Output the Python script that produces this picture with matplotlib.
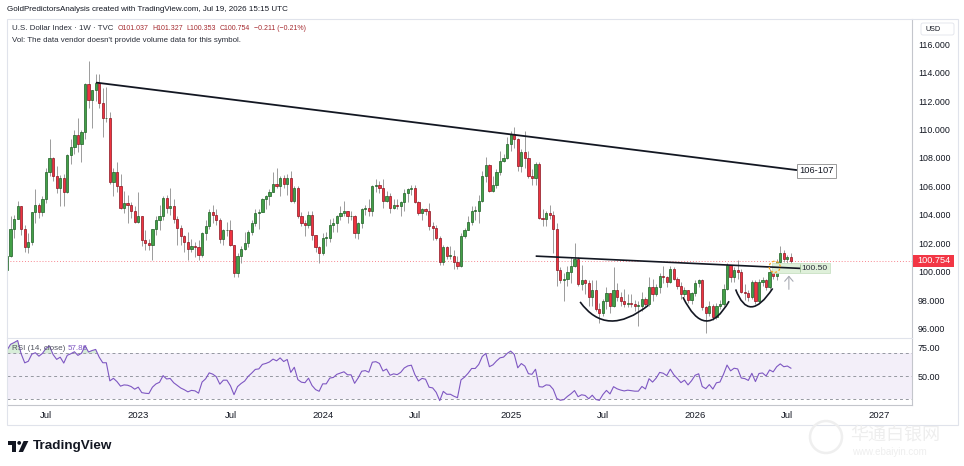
import numpy as np
import pandas as pd
import matplotlib
matplotlib.use("Agg")
import matplotlib.pyplot as plt
import matplotlib.dates as mdates
import matplotlib.transforms as mtransforms
from matplotlib.patches import Rectangle, Ellipse, PathPatch, FancyBboxPatch, Polygon, Circle
from matplotlib.path import Path

plt.rcParams['font.family'] = ['Liberation Sans', 'DejaVu Sans']

# U.S. Dollar Index (TVC), weekly bars, each week starts on a Monday
first_week = "2021-10-04"

close_2021 = [94.1, 94.0, 93.6, 94.1, 94.3, 95.1, 96.0, 96.4, 96.1, 96.1, 96.6, 96.0, 95.7]
high_2021 = [94.5, 94.6, 94.1, 94.2, 94.6, 95.3, 96.3, 96.9, 96.5, 96.4, 96.9, 96.8, 96.3]
low_2021 = [93.7, 93.8, 93.5, 93.3, 93.3, 93.9, 95.1, 95.8, 95.8, 95.9, 95.9, 96.0, 95.6]

close_2022 = [95.7, 95.2, 95.6, 97.3, 95.5, 96.1, 96.0, 96.6, 98.6, 99.1, 98.2, 98.8, 98.6,
              99.8, 100.1, 101.1, 103.0, 103.7, 104.6, 103.0, 101.7, 102.1, 104.2, 104.7, 104.2, 105.1,
              107.0, 108.0, 106.7, 105.9, 106.6, 105.6, 108.2, 108.8, 109.6, 109.0, 109.8, 113.2, 112.1,
              112.8, 113.3, 111.9, 110.8, 110.8, 106.3, 107.0, 106.0, 104.5, 104.8, 104.7, 104.3, 103.5]
high_2022 = [96.5, 96.0, 95.9, 97.4, 97.4, 96.2, 96.3, 97.7, 98.9, 99.4, 99.1, 99.2, 99.1,
             100.0, 100.8, 101.3, 103.9, 104.0, 105.0, 104.6, 103.3, 102.7, 104.2, 105.8, 104.8, 105.3,
             107.3, 109.3, 108.1, 107.4, 106.8, 106.9, 108.3, 109.3, 110.0, 110.8, 110.0, 113.3, 114.8,
             112.8, 113.9, 113.9, 112.9, 113.0, 111.2, 107.3, 107.7, 106.9, 105.7, 105.4, 104.9, 104.6]
low_2022 = [95.5, 94.6, 95.0, 95.5, 95.1, 95.2, 95.6, 95.9, 96.3, 97.7, 97.7, 98.0, 97.7,
            98.6, 99.6, 99.8, 101.0, 102.4, 103.7, 102.6, 101.4, 101.3, 101.9, 103.4, 103.8, 103.9,
            104.8, 106.7, 106.4, 105.5, 104.6, 104.6, 105.5, 107.6, 108.3, 108.4, 107.7, 109.3, 111.5,
            110.1, 112.0, 111.5, 109.5, 110.5, 106.2, 105.3, 105.6, 104.4, 104.1, 103.4, 103.8, 103.4]

close_2023 = [103.9, 102.2, 102.0, 101.9, 103.0, 103.6, 103.9, 105.2, 104.5, 104.6, 103.7, 103.1, 102.5,
              102.1, 101.6, 101.8, 101.7, 101.2, 102.7, 103.2, 104.2, 104.0, 103.6, 102.3, 102.9, 102.9,
              101.9, 99.9, 101.1, 101.6, 102.0, 102.8, 103.4, 104.1, 104.2, 105.1, 105.3, 105.6, 106.2,
              106.0, 106.6, 106.2, 106.6, 105.0, 105.9, 103.9, 103.4, 103.3, 104.0, 102.6, 101.7, 101.3]
high_2023 = [105.6, 103.9, 102.9, 102.3, 103.0, 103.9, 104.7, 105.3, 105.4, 105.9, 105.1, 103.9, 103.3,
             102.6, 102.8, 102.3, 102.1, 102.2, 102.8, 103.6, 104.4, 104.7, 104.4, 103.8, 103.0, 103.5,
             103.6, 101.9, 101.3, 101.8, 102.8, 102.9, 103.6, 104.4, 104.4, 105.2, 105.4, 105.8, 107.0,
             107.3, 106.7, 106.8, 106.9, 107.1, 106.0, 106.0, 104.2, 103.6, 104.3, 104.3, 102.6, 101.8]
low_2023 = [103.4, 101.8, 101.5, 101.5, 100.8, 102.6, 102.9, 103.6, 104.1, 104.0, 103.4, 101.9, 101.9,
            101.4, 100.8, 101.4, 101.0, 100.8, 101.0, 102.2, 103.0, 103.4, 103.3, 102.0, 101.9, 102.5,
            101.8, 99.6, 99.6, 100.6, 101.5, 101.7, 102.6, 103.2, 103.0, 104.2, 104.4, 104.7, 105.6,
            105.9, 105.3, 105.9, 105.4, 104.9, 104.8, 103.8, 103.2, 102.5, 103.1, 102.2, 101.4, 100.6]

close_2024 = [102.4, 102.4, 103.3, 103.4, 103.9, 104.1, 104.3, 103.9, 103.9, 102.7, 103.4, 104.4, 104.5,
              104.3, 106.0, 106.1, 105.9, 105.0, 105.3, 104.5, 104.7, 104.6, 104.9, 105.5, 105.8, 105.9,
              104.9, 104.1, 104.4, 104.3, 103.2, 103.1, 102.4, 100.7, 101.7, 101.1, 101.1, 100.7, 100.4,
              102.5, 102.9, 103.5, 104.3, 104.3, 105.0, 106.7, 107.5, 105.7, 106.1, 107.0, 107.8, 108.0, 109.0]
high_2024 = [102.7, 102.8, 103.7, 103.8, 104.0, 104.6, 105.0, 104.3, 104.3, 104.0, 103.5, 104.5, 104.7,
             105.1, 106.1, 106.5, 106.4, 106.5, 105.7, 105.5, 105.1, 105.1, 105.0, 105.8, 105.9, 106.1,
             106.1, 105.0, 104.5, 104.5, 104.8, 103.5, 103.3, 102.5, 101.9, 101.8, 101.8, 101.5, 101.1,
             102.7, 103.1, 103.9, 104.6, 104.6, 105.4, 107.1, 108.1, 107.6, 106.7, 107.2, 108.5, 108.3, 109.5]
low_2024 = [101.2, 101.8, 102.1, 102.8, 102.8, 103.6, 103.9, 103.4, 103.6, 102.4, 102.3, 103.1, 104.0,
            103.9, 103.9, 105.6, 105.5, 104.5, 104.9, 104.1, 104.4, 104.4, 103.9, 104.3, 104.9, 105.4,
            104.8, 104.0, 103.6, 104.0, 102.9, 102.2, 102.2, 100.5, 100.5, 100.9, 100.9, 100.2, 100.2,
            100.3, 102.4, 102.9, 103.3, 103.6, 103.4, 104.9, 106.3, 105.6, 105.6, 105.9, 106.8, 107.7, 107.9]

close_2025 = [109.7, 109.3, 107.4, 108.4, 108.0, 106.7, 106.6, 107.6, 103.8, 103.7, 104.1, 104.0, 103.0,
              100.1, 99.4, 99.5, 100.0, 100.4, 100.9, 99.1, 99.4, 99.2, 98.2, 98.7, 97.4, 97.1,
              97.9, 98.5, 97.6, 98.7, 98.2, 97.9, 97.7, 97.8, 97.7, 97.6, 97.6, 98.1, 97.7,
              98.9, 98.4, 98.9, 99.7, 99.6, 99.3, 100.2, 99.5, 99.0, 98.4, 98.7, 98.0, 98.5]
high_2025 = [109.9, 110.2, 109.4, 108.6, 109.9, 108.5, 107.2, 107.7, 107.7, 104.4, 104.3, 104.7, 104.3,
             103.4, 100.3, 99.9, 100.4, 101.0, 102.0, 101.0, 100.5, 99.5, 99.4, 99.4, 99.4, 97.8,
             98.1, 98.9, 98.5, 100.3, 99.2, 98.6, 98.8, 98.4, 98.4, 98.0, 97.9, 98.6, 98.2,
             99.6, 99.5, 99.1, 99.9, 100.4, 99.7, 100.4, 100.3, 99.6, 99.3, 98.9, 98.7, 98.6]
low_2025 = [108.5, 108.7, 107.1, 107.0, 107.3, 106.6, 106.1, 106.1, 103.7, 103.2, 103.2, 103.7, 101.3,
            99.0, 99.2, 97.9, 99.0, 99.2, 100.3, 99.0, 98.7, 98.4, 97.6, 97.6, 97.2, 96.4,
            96.9, 97.4, 97.1, 97.5, 97.9, 97.6, 97.5, 97.5, 97.5, 97.2, 96.2, 97.2, 97.6,
            97.6, 97.9, 98.3, 98.5, 99.2, 98.9, 99.2, 99.4, 98.8, 98.1, 98.2, 97.8, 97.7]

close_2026 = [99.2, 99.4, 97.5, 97.1, 97.6, 96.8, 97.6, 97.7, 98.8, 100.45, 99.6, 100.1, 100.0,
              98.6, 98.5, 98.2, 99.3, 97.9, 99.3, 99.4, 98.9, 100.0, 99.7, 100.7, 101.3, 100.9,
              101.037, 100.754]
high_2026 = [99.4, 99.5, 99.5, 97.6, 97.9, 97.7, 97.8, 98.0, 99.1, 100.6, 100.5, 100.3, 100.8,
             100.2, 99.1, 98.7, 99.4, 99.4, 99.5, 99.6, 99.5, 100.2, 100.3, 100.9, 101.8, 101.5,
             101.2, 101.327]
low_2026 = [98.3, 98.9, 97.3, 95.7, 96.9, 96.6, 96.7, 97.4, 97.6, 98.7, 99.3, 99.3, 99.5,
            98.5, 98.0, 97.9, 98.1, 97.7, 97.8, 99.0, 98.7, 98.8, 99.5, 99.4, 100.6, 100.7,
            100.6, 100.353]

closes = close_2021 + close_2022 + close_2023 + close_2024 + close_2025 + close_2026
highs = high_2021 + high_2022 + high_2023 + high_2024 + high_2025 + high_2026
lows = low_2021 + low_2022 + low_2023 + low_2024 + low_2025 + low_2026
opens = [closes[0]] + closes[:-1]

# drawings on the chart (dates, prices)
trend_dates = ["2022-10-12", "2026-07-24"]
trend_prices = [113.3, 107.15]
neck_dates = ["2025-02-26", "2026-07-31"]
neck_prices = [101.09, 100.23]
cup_dates = [("2025-05-23", "2025-07-14", "2025-10-05"),
             ("2025-12-12", "2026-01-25", "2026-03-13"),
             ("2026-03-26", "2026-04-21", "2026-06-07")]
cup_prices = [(97.87, 95.3, 97.64),
              (98.2, 95.0, 97.92),
              (98.75, 96.26, 98.82)]
last_price = 100.754
rsi_last = "57.86"

# ---------------------------------------------------------------
W, H = 964, 466
fig = plt.figure(figsize=(W / 100, H / 100), dpi=100)
fig.patch.set_facecolor("white")


def fx(x):
    return x / W


def fy(y):
    return 1 - y / H


ax = fig.add_axes([fx(7), fy(338), fx(912) - fx(7), fy(19) - fy(338)])
ax_rsi = fig.add_axes([fx(7), fy(405), fx(912) - fx(7), fy(338) - fy(405)], sharex=ax)

weeks = pd.date_range(first_week, periods=len(closes), freq="7D")
t = mdates.date2num(weeks)
o = np.array(opens)
c = np.array(closes)
h = np.array(highs)
l = np.array(lows)
up = c >= o

up_fill, up_edge = "#43a047", "#1d5e24"
dn_fill, dn_edge = "#ef3340", "#8a1420"
wick = "#8c8c8c"

body_lo = np.minimum(o, c)
body_h = np.maximum(np.abs(c - o), 0.04)
ax.vlines(t, l, h, color=wick, lw=0.6, zorder=2)
ax.bar(t[up], body_h[up], bottom=body_lo[up], width=4.4, color=up_fill,
       edgecolor=up_edge, linewidth=0.5, zorder=3)
ax.bar(t[~up], body_h[~up], bottom=body_lo[~up], width=4.4, color=dn_fill,
       edgecolor=dn_edge, linewidth=0.5, zorder=3)

ax.axhline(last_price, color="#F23645", lw=0.7, ls=(0, (1, 2)), alpha=0.6, zorder=1)

# trend line with target label
td = mdates.date2num(pd.to_datetime(trend_dates))
ax.plot(td, trend_prices, color="#131722", lw=1.3, zorder=5, solid_capstyle="round")
ax.annotate("106-107", (td[1], trend_prices[1]), xytext=(2.2, -0.5), textcoords="offset points",
            ha="left", va="center", fontsize=6.7, color="#131722", zorder=6,
            bbox=dict(boxstyle="square,pad=0.25", fc="white", ec="#8a8a8a", lw=0.6))

# neckline
nd = mdates.date2num(pd.to_datetime(neck_dates))
ax.plot(nd, neck_prices, color="#131722", lw=1.2, zorder=5)

# 100.50 label box
box_l = mdates.date2num(pd.Timestamp("2026-06-05"))
box_r = mdates.date2num(pd.Timestamp("2026-09-28"))
ax.add_patch(Rectangle((box_l, 99.92), box_r - box_l, 0.66, fc="#dff0da", ec="#c2ddbc",
                       lw=0.5, zorder=4))
ax.vlines(nd[1], 99.97, 100.53, color="#9dbf96", lw=0.6, zorder=5)
ax.text(nd[1] + 3.5, 100.25, "100.50", fontsize=6.0, color="#2a2e39", va="center", ha="left", zorder=6)

# dashed orange circle at the breakout
ax.add_patch(Ellipse((mdates.date2num(pd.Timestamp("2026-06-11")), 100.34), 21.7, 0.78,
                     fill=False, ec="#f5a623", lw=0.9, ls=(0, (2, 1.5)), zorder=6))

# arrow under the label
arrow_t = mdates.date2num(pd.Timestamp("2026-07-09"))
ax.annotate("", xy=(arrow_t, 99.92), xytext=(arrow_t, 98.56),
            arrowprops=dict(arrowstyle="->,head_length=0.35,head_width=0.3", color="#a8abb3", lw=0.8),
            zorder=6)

# cup shapes
for dts, prs in zip(cup_dates, cup_prices):
    xs = mdates.date2num(pd.to_datetime(list(dts)))
    path = Path(list(zip(xs, prs)), [Path.MOVETO, Path.CURVE3, Path.CURVE3])
    ax.add_patch(PathPatch(path, fill=False, ec="#131722", lw=1.2, zorder=5))

ax.set_xlim(mdates.date2num(pd.Timestamp("2022-04-18")), mdates.date2num(pd.Timestamp("2027-03-09")))
ax.set_ylim(95.33, 117.78)

price_ticks = np.arange(96, 117, 2)
ax.yaxis.tick_right()
ax.set_yticks(price_ticks)
ax.set_yticklabels([f"{v:.3f}" for v in price_ticks])
ax.tick_params(axis="y", length=0, pad=4.3, labelsize=6.4, labelcolor="#131722")
ax.tick_params(axis="x", length=0, labelbottom=False)
for s in ["left", "top", "bottom"]:
    ax.spines[s].set_visible(False)
ax.spines["right"].set_color("#c4c6cc")
ax.spines["right"].set_linewidth(0.8)

# last price tag on the price scale
blend = mtransforms.blended_transform_factory(ax.transAxes, ax.transData)
ax.add_patch(Rectangle((1 + 0.7 / 905, last_price - 0.41), 41.3 / 905, 0.82, transform=blend,
                       fc="#F23645", ec="none", clip_on=False, zorder=8))
ax.text(1 + 21.5 / 905, last_price, f"{last_price:.3f}", transform=blend, ha="center", va="center",
        fontsize=6.6, color="white", clip_on=False, zorder=9)

# ---------------- RSI pane ----------------
s = pd.Series(c)
d = s.diff()
gain = d.clip(lower=0).ewm(alpha=1 / 14, adjust=False).mean()
loss = (-d.clip(upper=0)).ewm(alpha=1 / 14, adjust=False).mean()
rsi = (100 - 100 / (1 + gain / loss)).to_numpy()

ax_rsi.axhspan(30, 70, color="#7E57C2", alpha=0.09, lw=0)
for lvl in (70, 50, 30):
    ax_rsi.axhline(lvl, color="#9598a1", lw=0.7, ls=(0, (3, 3)))
ax_rsi.fill_between(t, 70, rsi, where=rsi > 70, interpolate=True, color="#4caf50", alpha=0.22, lw=0)
ax_rsi.fill_between(t, 30, rsi, where=rsi < 30, interpolate=True, color="#f23645", alpha=0.22, lw=0)
ax_rsi.plot(t, rsi, color="#7E57C2", lw=0.8)
ax_rsi.set_ylim(24.9, 83.5)
ax_rsi.yaxis.tick_right()
ax_rsi.set_yticks([50, 75])
ax_rsi.set_yticklabels(["50.00", "75.00"])
ax_rsi.tick_params(axis="y", length=0, pad=4.3, labelsize=6.5, labelcolor="#131722")

tick_dates = ["2022-07-04", "2023-01-02", "2023-07-03", "2024-01-01", "2024-07-01",
              "2025-01-06", "2025-07-07", "2026-01-05", "2026-07-06", "2027-01-04"]
tick_labels = ["Jul", "2023", "Jul", "2024", "Jul", "2025", "Jul", "2026", "Jul", "2027"]
ax_rsi.set_xticks(mdates.date2num(pd.to_datetime(tick_dates)))
ax_rsi.set_xticklabels(tick_labels)
ax_rsi.tick_params(axis="x", length=0, pad=4.5, labelsize=6.8, labelcolor="#131722")
ax_rsi.spines["left"].set_visible(False)
ax_rsi.spines["top"].set_color("#e0e3eb")
ax_rsi.spines["top"].set_linewidth(0.8)
for s_ in ["right", "bottom"]:
    ax_rsi.spines[s_].set_color("#c4c6cc")
    ax_rsi.spines[s_].set_linewidth(0.8)

fig.text(fx(12.3), fy(348.3), "RSI (14, close)", fontsize=5.75, color="#50535e", va="center")
fig.text(fx(67.5), fy(348.3), rsi_last, fontsize=5.75, color="#7E57C2", va="center")

# ---------------- overlay: header, frame, logo ----------------
ov = fig.add_axes([0, 0, 1, 1], zorder=10)
ov.set_xlim(0, W)
ov.set_ylim(H, 0)
ov.axis("off")
ov.patch.set_visible(False)

ov.add_patch(Rectangle((7, 19), 951, 406, fill=False, ec="#e0e3eb", lw=0.8))
ov.text(7, 9.7, "GoldPredictorsAnalysis created with TradingView.com, Jul 19, 2026 15:15 UTC",
        fontsize=5.8, color="#131722", va="center")
ov.text(12.3, 28.6, "U.S. Dollar Index · 1W · TVC", fontsize=5.7, color="#2a2e39", va="center")
value_tokens = ["O101.037", "H101.327", "L100.353", "C100.754", "\u22120.211 (\u22120.21%)"]
value_x = [117.3, 152.7, 186.7, 220.0, 254.0]
for tok, xx in zip(value_tokens, value_x):
    ov.text(xx, 28.6, tok, fontsize=5.0, color="#a52a2f", va="center")
ov.text(12.3, 40.7, "Vol: The data vendor doesn't provide volume data for this symbol.",
        fontsize=5.7, color="#2a2e39", va="center")

ov.add_patch(FancyBboxPatch((921, 23), 33, 12, boxstyle="round,pad=0,rounding_size=2",
                            fc="white", ec="#e0e3eb", lw=0.6))
ov.text(926, 29.2, "USD", fontsize=5.2, color="#131722", va="center")

# TradingView logo
ov.add_patch(Polygon([(8.3, 441), (16.2, 441), (16.2, 452), (12.4, 452), (12.4, 444.6), (8.3, 444.6)],
                     closed=True, fc="#131722", ec="none"))
ov.add_patch(Circle((19.2, 442.9), 1.9, fc="#131722", ec="none"))
ov.add_patch(Polygon([(23.6, 441), (28.4, 441), (23.0, 452), (18.6, 452)], closed=True,
                     fc="#131722", ec="none"))
ov.text(32.5, 446.5, "TradingView", fontsize=9.7, fontweight="bold", color="#131722", va="center")

# faint site watermark, kept clear of the time labels
ov.add_patch(Circle((826, 437), 16, fill=False, ec="#efefef", lw=1.8))
ov.text(850, 435, "华通白银网", fontsize=13, color="#eeeeee", va="center",
        family=["Noto Sans CJK SC", "DejaVu Sans"])
ov.text(852, 452, "www.ebaiyin.com", fontsize=7, color="#eeeeee", va="center")

fig.savefig("out.png", dpi=100, facecolor="white")
